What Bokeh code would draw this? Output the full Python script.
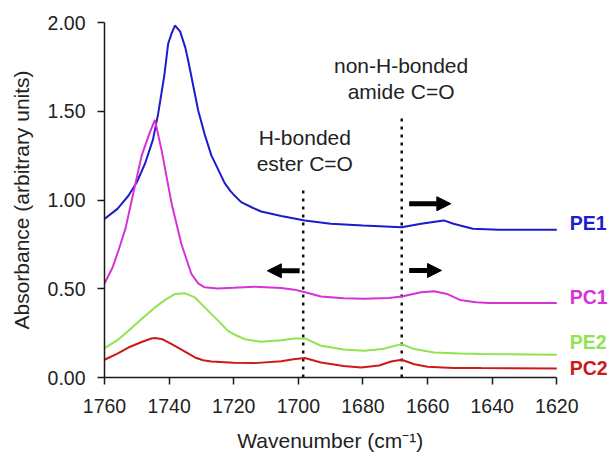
from bokeh.plotting import figure
from bokeh.models import (Range1d, FixedTicker, NumeralTickFormatter, Arrow,
                          NormalHead, ColumnDataSource)
from bokeh.core.properties import value
from bokeh.embed import file_html
from bokeh.resources import INLINE

# ---------------- data ----------------
pe1_x = [1760, 1756, 1752.6, 1750, 1747.5, 1745, 1743.4, 1741.5, 1740.3, 1739.2, 1738.2, 1736.6,
         1735, 1734.1, 1731, 1729, 1726.9, 1724.5, 1722.8, 1721, 1720, 1717.7, 1714, 1711.5,
         1705.3, 1698, 1690, 1680, 1668, 1662, 1655, 1652, 1646, 1638, 1620]
pe1_y = [0.893, 0.95, 1.024, 1.10, 1.203, 1.34, 1.485, 1.70, 1.88, 1.94, 1.983, 1.95,
         1.86, 1.786, 1.504, 1.37, 1.25, 1.16, 1.095, 1.05, 1.03, 0.988, 0.955, 0.935,
         0.91, 0.885, 0.866, 0.857, 0.847, 0.866, 0.885, 0.866, 0.838, 0.832, 0.832]

pc1_x = [1760, 1757.5, 1755.7, 1753.5, 1751.6, 1748.5, 1746, 1744.4, 1742.3, 1739.2, 1736.2,
         1733.1, 1731, 1729, 1725, 1720, 1713.5, 1705.3, 1701.2, 1697.9, 1693, 1686,
         1679.6, 1672, 1668, 1662, 1658, 1654, 1650, 1645, 1641, 1620]
pc1_y = [0.53, 0.62, 0.714, 0.84, 0.996, 1.25, 1.38, 1.451, 1.278, 0.977, 0.752,
         0.583, 0.53, 0.508, 0.502, 0.505, 0.511, 0.504, 0.495, 0.48, 0.456, 0.446,
         0.443, 0.448, 0.456, 0.48, 0.486, 0.471, 0.437, 0.424, 0.42, 0.42]

pe2_x = [1760, 1756, 1752.6, 1748.5, 1744.4, 1741, 1738.2, 1735.1, 1732, 1729.5, 1726.9,
         1724, 1721.8, 1719, 1716.6, 1711.5, 1705.3, 1701.2, 1698, 1693, 1686, 1679.6,
         1674, 1671.3, 1668, 1664.1, 1658, 1650, 1643.5, 1620]
pe2_y = [0.165, 0.21, 0.263, 0.33, 0.395, 0.44, 0.47, 0.474, 0.451, 0.405, 0.357,
         0.305, 0.263, 0.235, 0.216, 0.201, 0.21, 0.22, 0.22, 0.179, 0.158, 0.151,
         0.16, 0.173, 0.188, 0.16, 0.141, 0.135, 0.132, 0.128]

pc2_x = [1760, 1756, 1752.6, 1748.5, 1745.5, 1744.4, 1742, 1739.2, 1735.5, 1732, 1729.5,
         1726.9, 1720, 1713.5, 1705.3, 1701.5, 1698, 1693, 1686, 1680.6, 1675, 1671.3,
         1668, 1664.1, 1660, 1652, 1643.5, 1620]
pc2_y = [0.10, 0.135, 0.169, 0.20, 0.22, 0.222, 0.215, 0.188, 0.15, 0.113, 0.097,
         0.09, 0.083, 0.081, 0.092, 0.103, 0.11, 0.085, 0.065, 0.056, 0.068, 0.09,
         0.10, 0.075, 0.06, 0.054, 0.053, 0.051]

series_names = ["PE1", "PC1", "PE2", "PC2"]
series_colors = ["#1c1ccc", "#d633d6", "#8fe44f", "#cc1a1a"]
series_label_y = [0.870, 0.456, 0.198, 0.056]
series_label_x = 1616

x_ticks = [1760, 1740, 1720, 1700, 1680, 1660, 1640, 1620]
y_ticks = [0.0, 0.5, 1.0, 1.5, 2.0]

marker_x = [1698.5, 1668.0]
marker_top = [1.06, 1.47]

annot_text = ["non-H-bonded", "amide C=O", "H-bonded", "ester C=O"]
annot_x = [1668.2, 1668.2, 1698.0, 1698.0]
annot_y = [1.755, 1.614, 1.354, 1.207]

arrow_x_start = [1665.7, 1665.7, 1699.6]
arrow_x_end = [1652.8, 1655.7, 1709.6]
arrow_y = [0.979, 0.603, 0.601]

FONT = "Liberation Sans"
AXIS_COLOR = "#1a1a1a"

# ---------------- figure ----------------
# the frame extends past 1620 so that the series labels can sit at its right;
# the axis itself is bounded to 1760..1620
p = figure(width=609, height=457, x_range=Range1d(1760, 1604), y_range=Range1d(0, 2),
           output_backend="svg", toolbar_location=None,
           min_border_left=104, min_border_right=1, min_border_top=22, min_border_bottom=80)
p.outline_line_color = None
p.grid.visible = False
p.background_fill_color = "white"
p.border_fill_color = "white"

p.xaxis.ticker = FixedTicker(ticks=x_ticks)
p.xaxis.bounds = (1620, 1760)
p.yaxis.ticker = FixedTicker(ticks=y_ticks)
p.yaxis.formatter = NumeralTickFormatter(format="0.00")

for ax in (p.xaxis[0], p.yaxis[0]):
    ax.axis_line_color = AXIS_COLOR
    ax.axis_line_width = 1.5
    ax.major_tick_line_color = AXIS_COLOR
    ax.major_tick_line_width = 1.5
    ax.major_tick_out = 7
    ax.major_tick_in = 0
    ax.minor_tick_line_color = None
    ax.major_label_text_font = FONT
    ax.major_label_text_font_size = "19.5px"
    ax.major_label_text_color = "#222222"
    ax.axis_label_text_font = FONT
    ax.axis_label_text_font_size = "21px"
    ax.axis_label_text_font_style = "normal"
    ax.axis_label_text_color = "#222222"

# trailing em/en spaces re-centre the label under the bounded axis (1760..1620)
p.xaxis.axis_label = "Wavenumber (cm\u207b\u00b9)\u2003\u2003\u2002"
p.yaxis.axis_label = "Absorbance (arbitrary units)"
p.xaxis.major_label_standoff = 14
p.xaxis.axis_label_standoff = 13
p.yaxis.major_label_standoff = 12
p.yaxis.axis_label_standoff = 12

# dotted marker lines
p.segment(x0=marker_x, y0=[0, 0], x1=marker_x, y1=marker_top,
          line_color="#111111", line_width=2.5, line_dash="3 5")

# spectra
all_x = [pe1_x, pc1_x, pe2_x, pc2_x]
all_y = [pe1_y, pc1_y, pe2_y, pc2_y]
for xs, ys, c in zip(all_x, all_y, series_colors):
    p.line(xs, ys, line_color=c, line_width=2)

# annotation texts
p.text(x=annot_x, y=annot_y, text=annot_text, text_align="center",
       text_baseline="alphabetic", text_font=value(FONT), text_font_size="21px",
       text_color="#222222")

# arrows
for xs, xe, ya in zip(arrow_x_start, arrow_x_end, arrow_y):
    p.add_layout(Arrow(end=NormalHead(size=14, fill_color="black", line_color="black"),
                       x_start=xs, y_start=ya, x_end=xe, y_end=ya,
                       line_color="black", line_width=5))

# series labels
src = ColumnDataSource(dict(x=[series_label_x] * 4, y=series_label_y, text=series_names,
                            color=series_colors))
p.text(x="x", y="y", text="text", source=src, text_color="color",
       text_font=value(FONT), text_font_size="19.5px", text_font_style="bold",
       text_baseline="middle", text_align="left")

open("out.html", "w").write(file_html(p, INLINE))
